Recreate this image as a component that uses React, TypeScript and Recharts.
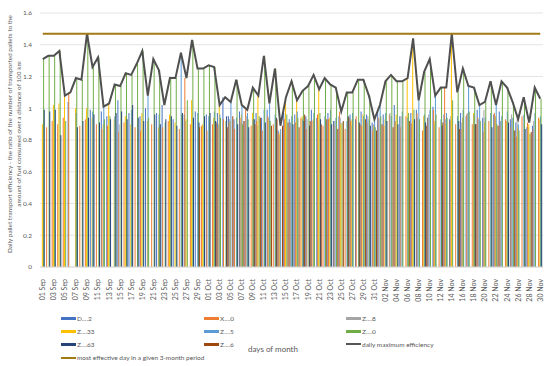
import React from "react";
import {
  Bar,
  ComposedChart,
  CartesianGrid,
  Legend,
  Line,
  ReferenceLine,
  XAxis,
  YAxis,
} from "recharts";

const months: [string, number][] = [
  ["Sep", 30],
  ["Oct", 31],
  ["Nov", 30],
];
const days = months.flatMap(([m, n]) =>
  Array.from({ length: n }, (_, i) => `${String(i + 1).padStart(2, "0")} ${m}`)
);

// series values, Sep | Oct | Nov
const d2 = [
  null, null, null, null, null, 1.04, null, null, null, 0.99, null, 0.98, 0.95, null, 1.05, null, 0.97, null, 0.95, 1.0, null, 0.97, 1.02, null, 0.93, null, 0.96, null, 0.98, null,
  0.96, null, 0.97, 1.07, 0.95, 0.93, 0.98, 0.92, null, 0.97, 0.94, 0.99, null, 0.86, 0.97, 0.93, 0.96, null, 0.95, 0.99, 0.94, null, 0.97, 0.92, 0.95, null, 0.96, 0.93, 0.98, 0.96, 0.91,
  0.98, 0.96, null, 1.02, 0.95, null, 0.97, 0.99, null, 0.94, 1.01, null, 0.96, 0.93, null, 0.97, 0.95, null, 0.99, 0.94, null, 0.96, 0.98, null, 0.93, 0.91, null, 0.88, 0.89, null,
];
const x0 = [
  null, 0.88, 0.92, 0.9, 0.94, 1.1, null, 0.89, 0.93, null, 0.9, 0.87, 0.89, null, 0.85, 0.91, null, 0.88, 0.86, null, 0.9, null, 0.88, 0.92, null, 0.87, 1.19, 0.9, null, 0.89,
  0.86, 0.9, 0.88, 0.93, 0.91, 0.87, 0.94, 0.99, 0.89, 0.92, 0.86, 0.95, 0.9, 0.84, 0.93, 0.88, 0.91, 0.94, 0.87, 0.92, 0.96, 0.89, 0.93, 0.9, 0.98, 0.87, 0.92, 0.95, 0.89, 0.91, 0.86,
  0.94, 0.89, 0.96, 0.91, 0.88, 0.95, 0.9, 0.97, 0.86, 0.93, 0.99, 0.88, 1.13, 0.92, 0.9, 0.87, 0.96, 0.9, 0.94, 0.85, 0.92, 0.97, 0.89, 0.93, 0.88, 0.82, 0.95, 0.91, 0.87, 0.94,
];
const z8 = [
  null, null, null, null, null, null, null, null, null, null, null, null, null, null, 0.9, null, null, null, null, null, null, null, null, null, null, null, 0.92, null, null, null,
  null, null, 0.9, null, 0.93, null, 0.91, 0.95, null, 0.89, null, 0.94, null, 0.83, null, 0.91, null, null, 0.93, null, 0.9, null, null, 0.92, 0.94, null, 0.89, null, null, 0.95, 0.9,
  0.93, null, 0.97, 0.92, 0.95, null, 0.91, 0.94, null, 0.96, 0.9, null, 0.93, 0.95, null, 0.91, 0.97, null, 0.93, 0.99, null, 0.94, 0.92, null, 0.96, 0.93, null, 0.88, 0.92, null,
];
const z33 = [
  0.9, null, 1.02, 1.03, 1.08, null, 1.0, null, 1.0, 0.94, null, 0.9, 1.03, 0.93, null, 0.95, 0.9, null, 0.97, 0.92, null, 0.88, null, 0.96, 0.91, null, 0.93, 1.05, null, 0.9,
  null, 0.94, 1.02, null, 0.92, null, 0.96, null, 0.97, 1.08, null, 0.93, null, 0.85, 1.07, null, 1.05, 0.95, null, 0.93, 1.12, null, 0.94, null, 0.9, null, 0.93, null, 0.96, null, 0.89,
  null, 0.93, null, 0.96, null, 1.19, 1.44, null, 0.95, null, 0.92, null, 0.9, 1.47, null, 0.94, null, 0.97, null, 0.91, null, 0.95, null, 0.92, null, 0.88, null, 0.9, null, 0.93,
];
const z5 = [
  null, null, null, null, null, null, 0.97, null, null, 0.98, null, 1.01, null, 0.95, null, null, 0.99, null, null, 1.08, null, 0.96, null, null, null, 1.35, null, null, 0.97, null,
  0.95, 0.98, 0.96, null, 1.04, 0.94, 1.02, 0.97, 0.93, null, 0.99, 1.03, 0.96, 0.87, null, 0.95, 0.98, 0.93, null, 0.97, null, 0.95, 0.99, 0.94, null, 0.92, 0.97, null, 0.95, 0.93, 0.93,
  1.02, 0.97, 0.95, null, 0.98, 0.94, null, 1.05, 0.96, 0.99, 1.08, 0.93, 0.97, null, 0.95, 0.99, 1.14, 0.96, 1.02, 0.94, 0.97, 1.02, 0.95, 0.98, 0.94, 0.9, 0.96, null, 0.97, 0.95,
];
const z0 = [
  1.31, 1.33, 1.33, 1.36, 0.92, null, 1.19, 1.18, 1.47, 1.26, 1.32, 0.93, 0.95, 1.15, 1.14, 1.22, 1.21, 1.28, 1.36, 0.94, 1.31, 1.24, 0.91, 1.19, 1.19, 0.96, 1.05, 1.43, 1.25, 1.25,
  1.27, 1.26, 0.94, 0.92, null, 1.18, 0.9, 0.93, 1.13, 0.95, 1.33, 0.92, 1.25, null, 0.96, 1.17, 0.94, 1.11, 1.14, 1.21, 0.97, 1.19, 1.15, 1.13, 0.91, 1.1, 1.1, 1.18, 1.18, 1.08, 0.88,
  0.95, 1.17, 1.21, 1.17, 1.17, 0.97, 0.99, 0.93, 1.23, 1.31, 0.96, 1.13, 0.94, 1.05, 1.1, 1.25, 0.98, 1.13, 0.92, 1.04, 1.17, 0.9, 1.17, 1.13, 1.04, 0.86, 1.07, 0.84, 1.13, 1.06,
];
const z63 = [
  0.99, 0.98, 0.99, 0.83, null, null, 0.88, 0.92, 0.94, 0.96, 0.91, null, 0.93, 0.97, 0.98, 0.93, 1.02, 0.94, 0.92, null, 0.96, 0.9, 0.93, 0.95, 0.89, 0.97, null, 0.94, 0.91, 0.95,
  0.97, 0.92, null, 0.95, null, 0.9, null, 0.88, 0.93, null, 0.91, null, 0.94, null, null, 0.9, null, 0.92, 0.89, null, 0.93, null, 0.9, null, null, 0.95, null, 0.91, null, 0.89, null,
  null, 0.92, null, 0.9, null, null, 0.93, null, 0.91, null, null, 0.89, null, null, 0.92, null, null, 0.9, null, null, 0.88, null, null, 0.91, null, null, 0.87, null, null, 0.9,
];
const z6 = [
  null, null, null, null, null, null, null, null, null, null, null, null, null, null, null, null, null, null, null, null, null, null, null, null, null, null, null, null, 0.88, null,
  null, 0.91, null, 0.88, 0.95, null, 0.92, null, 0.9, 0.94, null, 0.89, 0.93, 0.89, 0.91, null, 0.88, 0.96, 0.92, null, 0.9, 0.93, null, 0.87, 0.92, 0.94, null, 0.9, 0.93, null, 0.86,
  0.9, null, 0.88, null, null, 0.92, null, null, 0.89, null, null, 0.91, null, null, 0.87, null, null, 0.9, null, null, null, 0.89, null, null, 0.86, null, null, 0.85, null, null,
];
const dailyMax = [
  1.31, 1.33, 1.33, 1.36, 1.08, 1.1, 1.19, 1.18, 1.47, 1.26, 1.32, 1.01, 1.03, 1.15, 1.14, 1.22, 1.21, 1.28, 1.36, 1.08, 1.31, 1.24, 1.02, 1.19, 1.19, 1.35, 1.19, 1.43, 1.25, 1.25,
  1.27, 1.26, 1.02, 1.07, 1.04, 1.18, 1.02, 0.99, 1.13, 1.08, 1.33, 1.03, 1.25, 0.89, 1.07, 1.17, 1.05, 1.11, 1.14, 1.21, 1.12, 1.19, 1.15, 1.13, 0.98, 1.1, 1.1, 1.18, 1.18, 1.08, 0.93,
  1.02, 1.17, 1.21, 1.17, 1.17, 1.19, 1.44, 1.05, 1.23, 1.31, 1.08, 1.13, 1.13, 1.47, 1.1, 1.25, 1.14, 1.13, 1.02, 1.04, 1.17, 1.02, 1.17, 1.13, 1.04, 0.93, 1.07, 0.91, 1.13, 1.06,
];
const bestDay = 1.47;
const yTicks = [0, 0.2, 0.4, 0.6, 0.8, 1, 1.2, 1.4, 1.6];

const series = [
  { key: "d2", name: "D....2", color: "#4472C4", values: d2 },
  { key: "x0", name: "X....0", color: "#ED7D31", values: x0 },
  { key: "z8", name: "Z....8", color: "#A5A5A5", values: z8 },
  { key: "z33", name: "Z....33", color: "#FFC000", values: z33 },
  { key: "z5", name: "Z....5", color: "#5B9BD5", values: z5 },
  { key: "z0", name: "Z....0", color: "#70AD47", values: z0 },
  { key: "z63", name: "Z....63", color: "#264478", values: z63 },
  { key: "z6", name: "Z....6", color: "#9E480E", values: z6 },
];

const data = days.map((day, i) => {
  const row: Record<string, any> = { day, max: dailyMax[i] };
  series.forEach((s) => (row[s.key] = s.values[i]));
  return row;
});

const FONT = "Lato, 'Liberation Sans', sans-serif";
const TXT = "#595959";
const GOLD = "#A27B16";

const legendItems = [
  ...series.map((s) => ({ name: s.name, color: s.color, line: false })),
  { name: "daily maximum efficiency", color: "#555555", line: true },
  { name: "most effective day in a given 3-month period", color: GOLD, line: true },
];
const colLeft = [61, 204, 346];
const rowMid = [12, 25.5, 38, 51.5];

const renderLegend = () => (
  <div style={{ position: "relative", width: 550, height: 60, fontFamily: FONT, fontSize: 6.5, color: TXT }}>
    {legendItems.map((it, i) => (
      <div
        key={it.name}
        style={{
          position: "absolute",
          left: colLeft[i % 3],
          top: rowMid[Math.floor(i / 3)] - 5,
          height: 10,
          display: "flex",
          alignItems: "center",
          whiteSpace: "nowrap",
        }}
      >
        <span
          style={{
            display: "inline-block",
            width: 15,
            height: it.line ? 2 : 3,
            background: it.color,
            marginRight: 1,
          }}
        />
        {it.name}
      </div>
    ))}
  </div>
);

const XTick = (props: any) => {
  const { x, y, payload } = props;
  return (
    <g transform={`translate(${x},${y})`}>
      <text transform="rotate(-90)" x={-4} dy="0.35em" textAnchor="end" fontSize={7} fill={TXT} fontFamily={FONT}>
        {payload.value}
      </text>
    </g>
  );
};

const YTitle = () => (
  <text transform="translate(12,134) rotate(-90)" textAnchor="middle" fontSize={6.4} fill={TXT} fontFamily={FONT}>
    <tspan x={0} dy={0}>
      Daily pallet transport efficiency - the ratio of the number of transported pallets to the
    </tspan>
    <tspan x={0} dy={9}>
      amount of fuel consumed over a distance of 100 km
    </tspan>
  </text>
);

const XTitle = () => (
  <text x={248} y={352} fontSize={8} fill={TXT} fontFamily={FONT}>
    days of month
  </text>
);

export default function App() {
  return (
    <div style={{ position: "absolute", left: 0, top: 0, background: "#fff" }}>
      <ComposedChart
        width={550}
        height={366}
        data={data}
        margin={{ top: 13, right: 7, bottom: 0, left: 0 }}
        barCategoryGap="10%"
        barGap={-0.38}
        barSize={1}
      >
        <CartesianGrid vertical={false} stroke="#E4E4E4" />
        <XAxis
          dataKey="day"
          interval={1}
          height={39}
          tickLine={false}
          axisLine={{ stroke: "#D9D9D9" }}
          tick={<XTick />}
          label={<XTitle />}
        />
        <YAxis
          width={40}
          domain={[0, 1.6]}
          ticks={yTicks}
          axisLine={false}
          tickLine={false}
          tick={{ fontSize: 6.5, fill: TXT, fontFamily: FONT }}
          label={<YTitle />}
        />
        {series.map((s) => (
          <Bar key={s.key} dataKey={s.key} name={s.name} fill={s.color} isAnimationActive={false} />
        ))}
        <Line
          dataKey="max"
          name="daily maximum efficiency"
          stroke="#505050"
          strokeWidth={2}
          dot={false}
          isAnimationActive={false}
        />
        <ReferenceLine
          segment={[
            { x: days[0], y: bestDay },
            { x: days[days.length - 1], y: bestDay },
          ]}
          stroke={GOLD}
          strokeWidth={2}
        />
        <Legend
          verticalAlign="bottom"
          content={renderLegend}
          wrapperStyle={{ left: 0, bottom: 0, width: 550, height: 60 }}
        />
      </ComposedChart>
    </div>
  );
}
